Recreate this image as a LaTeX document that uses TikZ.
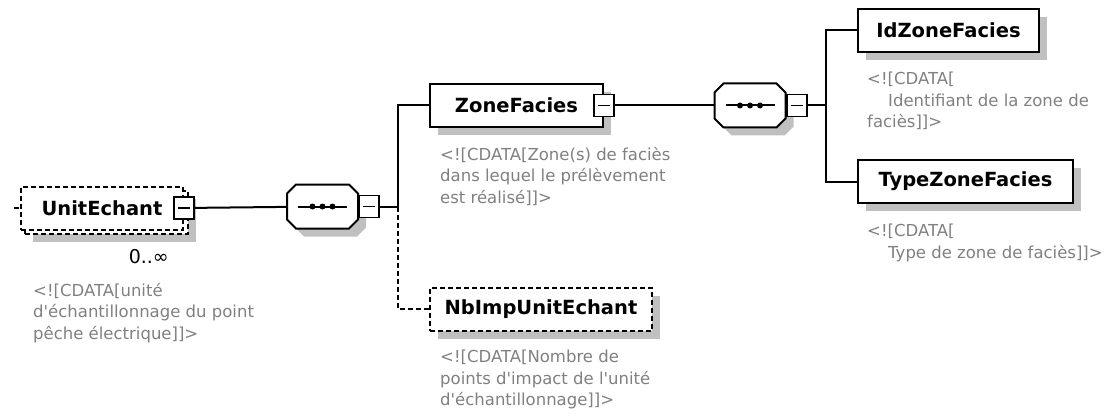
\documentclass[tikz,border=0pt]{standalone}
\usepackage{fontspec}
\setmainfont{DejaVu Sans}
\usetikzlibrary{positioning,shadows}
\definecolor{notegray}{RGB}{128,128,128}
\definecolor{shadegray}{RGB}{192,192,192}

\tikzset{
  link/.style={line width=2pt},
  optlink/.style={link, dash pattern=on 5pt off 3pt},
  elem/.style={draw, line width=2pt, fill=white, minimum height=43pt, inner sep=0pt,
    font=\fontsize{19.5}{20}\selectfont\bfseries},
  optelem/.style={elem, dash pattern=on 5pt off 3pt},
  boxshadow/.style={drop shadow={shadow xshift=8pt, shadow yshift=-8pt, fill=shadegray, opacity=1}},
  minusbox/.style={draw, line width=1.8pt, fill=white, minimum width=20pt, minimum height=22pt, inner sep=0pt,
    path picture={\draw[line width=1.8pt] ([xshift=4pt]path picture bounding box.west) -- ([xshift=-4pt]path picture bounding box.east);}},
  seqpic/.pic={
    \fill[shadegray, shift={(8,8)}] (-26.5,-22) -- (26.5,-22) -- (35.5,-13) -- (35.5,13) -- (26.5,22) -- (-26.5,22) -- (-35.5,13) -- (-35.5,-13) -- cycle;
    \draw[link, fill=white] (-26.5,-22) -- (26.5,-22) -- (35.5,-13) -- (35.5,13) -- (26.5,22) -- (-26.5,22) -- (-35.5,13) -- (-35.5,-13) -- cycle;
    \draw[link] (-24.5,0) -- (24.5,0);
    \foreach \dx in {-10,0,10}
      \fill (\dx,0) circle (3pt);
    \node[minimum width=71pt, minimum height=44pt, inner sep=0pt] (-box) {};
  },
  note/.style={anchor=base west, align=left, inner sep=0pt, text=notegray, font=\fontsize{16.5}{21.5}\selectfont},
}

\begin{document}
\begin{tikzpicture}[x=1pt, y=-1pt]
  \useasboundingbox (0,0) rectangle (1113,417);

  \node[optelem, boxshadow, minimum width=163pt] (unitback) at (106.5,212) {};
  \node[optelem, minimum width=162pt] (unit) at (102,208) {UnitEchant};
  \node[minusbox] (unitm) at (unit.east) {};
  \coordinate (in) at (14,208);
  \node[anchor=base east, inner sep=0pt, font=\fontsize{19}{20}\selectfont] (unitmult) at (169,263) {0..∞};

  \pic (seq1) at (322.5,206.5) {seqpic};
  \node[minusbox, right=0pt of seq1-box] (seq1m) {};
  \coordinate (j1) at (398,206.5);

  \node[elem, boxshadow, minimum width=173pt] (zone) at (516.5,105.5) {ZoneFacies};
  \node[minusbox] (zonem) at (zone.east) {};
  \node[optelem, boxshadow, minimum width=222pt] (nbimp) at (541,309) {NbImpUnitEchant};

  \pic (seq2) at (750,105.5) {seqpic};
  \node[minusbox, right=0pt of seq2-box] (seq2m) {};
  \coordinate (j2) at (826,105.5);

  \node[elem, boxshadow, minimum width=181pt] (idzone) at (948.5,30.5) {IdZoneFacies};
  \node[elem, boxshadow, minimum width=215pt] (typezone) at (965.5,181.5) {TypeZoneFacies};

  \draw[optlink] (in) -- (unit.west);
  \draw[link] (unitm) -- (seq1-box);
  \draw[link] (seq1m) -- (j1) |- (zone);
  \draw[optlink] (j1) |- (nbimp);
  \draw[link] (zonem) -- (seq2-box);
  \draw[link] (seq2m) -- (j2) |- (idzone);
  \draw[link] (j2) |- (typezone);

  \node[note] (unitnote) at (33,339) {<![CDATA[unité\\d\textquotesingle échantillonnage du point\\pêche électrique]]>};
  \node[note] (zonenote) at (440,203) {<![CDATA[Zone(s) de faciès\\dans lequel le prélèvement\\est réalisé]]>};
  \node[note] (nbimpnote) at (440,405.5) {<![CDATA[Nombre de\\points d\textquotesingle impact de l\textquotesingle unité\\d\textquotesingle échantillonnage]]>};
  \node[note] (idzonenote) at (867,128) {<![CDATA[\\\hspace*{21pt}Identifiant de la zone de\\faciès]]>};
  \node[note] (typezonenote) at (867,258) {<![CDATA[\\\hspace*{21pt}Type de zone de faciès]]>};
\end{tikzpicture}
\end{document}
